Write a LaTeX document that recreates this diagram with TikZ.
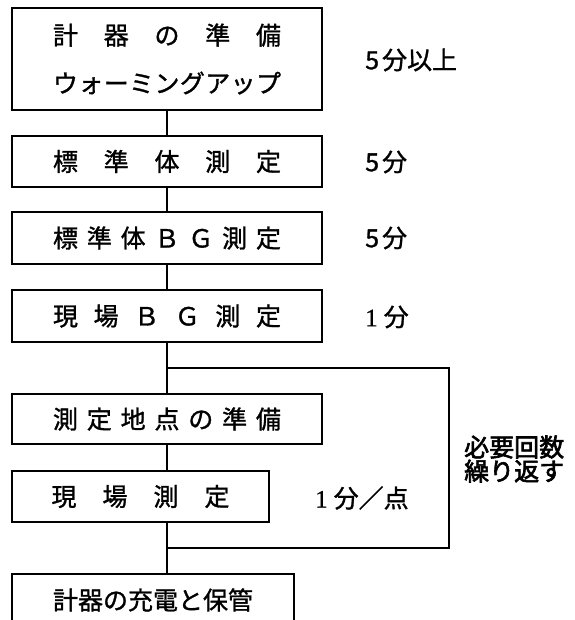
\documentclass[tikz,border=0pt]{standalone}
\usepackage{fontspec}
\setmainfont{Noto Sans CJK JP}[FakeBold=1.2, AutoFakeBold=2.5]
\newfontfamily\numfont{Liberation Serif}[FakeBold=0.8]
\newcommand{\spreadline}[2]{\makebox[#1][s]{#2}}

\begin{document}
\begin{tikzpicture}[x=1pt, y=-1pt,
		stepbox/.style={draw, line width=1.1pt, minimum height=51pt, inner sep=0pt, font=\fontsize{25}{27}\selectfont},
		timenote/.style={anchor=west, inner sep=0pt, font=\fontsize{25}{27}\selectfont},
		link/.style={line width=1.1pt}]
			\useasboundingbox (0,0) rectangle (574,620);
			\node[stepbox, minimum width=310pt, minimum height=102pt, align=center, font=\fontsize{25}{48}\selectfont] (prep) at (167,59) {
				\spreadline{228pt}{計\hfill 器\hfill の\hfill 準\hfill 備}\\
				\spreadline{228pt}{ウ\hfill ォ\hfill ー\hfill ミ\hfill ン\hfill グ\hfill ア\hfill ッ\hfill プ}
			};
			\node[stepbox, minimum width=310pt] (std) at (167,161.5) {\spreadline{228pt}{標\hfill 準\hfill 体\hfill 測\hfill 定}};
			\node[stepbox, minimum width=310pt, minimum height=52pt] (stdbg) at (167,238) {\spreadline{228pt}{標\hfill 準\hfill 体\hfill Ｂ\hfill Ｇ\hfill 測\hfill 定}};
			\node[stepbox, minimum width=310pt, minimum height=52pt] (sitebg) at (167,316) {\spreadline{228pt}{現\hfill 場\hfill Ｂ\hfill Ｇ\hfill 測\hfill 定}};
			\node[stepbox, minimum width=310pt, minimum height=50pt] (pt) at (167,419) {\spreadline{228pt}{測\hfill 定\hfill 地\hfill 点\hfill の\hfill 準\hfill 備}};
			\node[stepbox, minimum width=257pt] (site) at (140.5,496.5) {\spreadline{178pt}{現\hfill 場\hfill 測\hfill 定}};
			\node[stepbox, minimum width=282pt, minimum height=52pt] (store) at (153,600) {計器の充電と保管};
			\coordinate (jtop) at (167,368);
			\coordinate (jbot) at (167,548);
			\coordinate (ltop) at (449,368);
			\coordinate (lbot) at (449,548);
			\node[timenote] (t1) at (365,60) {5\kern3pt 分以上};
			\node[timenote] (t2) at (365,162) {5\kern3pt 分};
			\node[timenote] (t3) at (365,238) {5\kern3pt 分};
			\node[timenote] (t4) at (365,317) {{\numfont 1}\kern6pt 分};
			\node[timenote] (t5) at (315,498) {{\numfont 1}\kern6pt 分／点};
			\node[timenote, align=left, font=\fontsize{25}{23}\bfseries] (rep) at (464,459) {必要回数\\繰り返す};
			\draw[link] (prep) -- (std);
			\draw[link] (std) -- (stdbg);
			\draw[link] (stdbg) -- (sitebg);
			\draw[link] (sitebg) -- (jtop) -- (pt);
			\draw[link] (pt.south) -- (pt.south |- site.north);
			\draw[link] (jtop) -- (ltop) -- (lbot) -- (jbot);
			\draw[link] (jbot |- site.south) -- (jbot) -- (jbot |- store.north);
\end{tikzpicture}
\end{document}
